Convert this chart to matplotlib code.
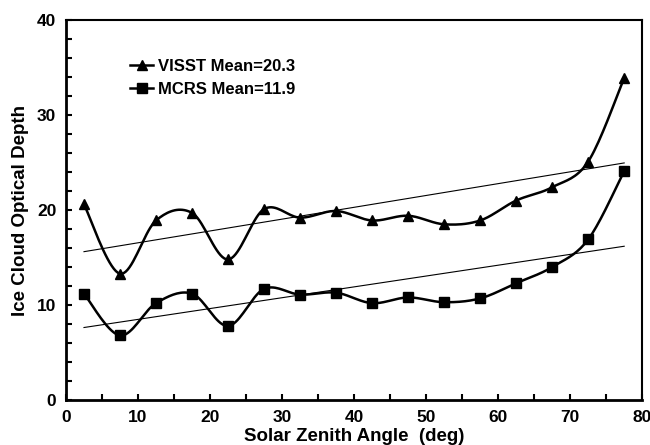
import numpy as np
import matplotlib
matplotlib.use('Agg')
import matplotlib.pyplot as plt

plt.rcParams['font.family'] = ['Liberation Sans', 'DejaVu Sans']
plt.rcParams['font.weight'] = 'bold'

# data
sza = [2.5, 7.5, 12.5, 17.5, 22.5, 27.5, 32.5, 37.5,
       42.5, 47.5, 52.5, 57.5, 62.5, 67.5, 72.5, 77.5]
visst = [20.6, 13.3, 18.9, 19.7, 14.8, 20.1, 19.2, 19.9,
         18.9, 19.4, 18.5, 18.9, 21.0, 22.4, 25.1, 33.9]
mcrs = [11.2, 6.8, 10.2, 11.2, 7.8, 11.7, 11.1, 11.3,
        10.2, 10.8, 10.3, 10.7, 12.3, 14.0, 16.9, 24.1]
labels = ['VISST Mean=20.3', 'MCRS Mean=11.9']


def smooth(x, y, n=20):
    # bezier smoothing like a spreadsheet "smoothed line"
    x = np.asarray(x, float)
    y = np.asarray(y, float)
    px = np.concatenate([[x[0]], x, [x[-1]]])
    py = np.concatenate([[y[0]], y, [y[-1]]])
    xs, ys = [], []
    t = np.linspace(0, 1, n)
    for i in range(1, len(px) - 2):
        p0 = np.array([px[i], py[i]])
        p3 = np.array([px[i + 1], py[i + 1]])
        p1 = p0 + (p3 - np.array([px[i - 1], py[i - 1]])) / 6
        p2 = p3 - (np.array([px[i + 2], py[i + 2]]) - p0) / 6
        b = ((1 - t) ** 3)[:, None] * p0 + (3 * (1 - t) ** 2 * t)[:, None] * p1 \
            + (3 * (1 - t) * t ** 2)[:, None] * p2 + (t ** 3)[:, None] * p3
        xs.extend(b[:, 0])
        ys.extend(b[:, 1])
    return np.array(xs), np.array(ys)


fig = plt.figure(figsize=(6.5, 4.45), dpi=100)
ax = fig.add_axes([0.1015, 0.101, 0.8865, 0.854])

for vals, mk, lab in [(visst, '^', labels[0]), (mcrs, 's', labels[1])]:
    sx, sy = smooth(sza, vals)
    ax.plot(sx, sy, 'k-', linewidth=1.8)
    ax.plot(sza, vals, 'k', marker=mk, linestyle='none', markersize=7)
    # legend proxy
    ax.plot([], [], 'k-', marker=mk, markersize=7, linewidth=1.8, label=lab)
    # linear fit
    c = np.polyfit(sza, vals, 1)
    xx = np.array([sza[0], sza[-1]])
    ax.plot(xx, np.polyval(c, xx), 'k-', linewidth=0.8)

ax.set_xlim(0, 80)
ax.set_ylim(0, 40)
ax.set_xticks(range(0, 81, 10))
ax.set_xticks(range(5, 80, 10), minor=True)
ax.set_yticks(range(0, 41, 10))
ax.set_yticks(range(0, 41, 2), minor=True)
ax.tick_params(which='both', direction='in', length=4, width=1.5,
               labelsize=12.5, top=False, right=False)
ax.tick_params(axis='x', pad=7)
ax.tick_params(axis='y', pad=7)
for lbl in ax.get_xticklabels() + ax.get_yticklabels():
    lbl.set_fontweight('bold')
for s in ax.spines.values():
    s.set_linewidth(1.5)
ax.spines['left'].set_linewidth(2)
ax.spines['bottom'].set_linewidth(2)

ax.set_xlabel('Solar Zenith Angle  (deg)', fontsize=13.5, fontweight='bold', labelpad=2.5)
ax.set_ylabel('Ice Cloud Optical Depth', fontsize=13.5, fontweight='bold', labelpad=6)

leg = ax.legend(loc='upper left', bbox_to_anchor=(0.111, 0.897), frameon=False,
                fontsize=12, handlelength=1.4, handletextpad=0.3,
                labelspacing=0.45, borderaxespad=0, borderpad=0)
for t in leg.get_texts():
    t.set_fontweight('bold')

fig.savefig('out.png', dpi=100)
